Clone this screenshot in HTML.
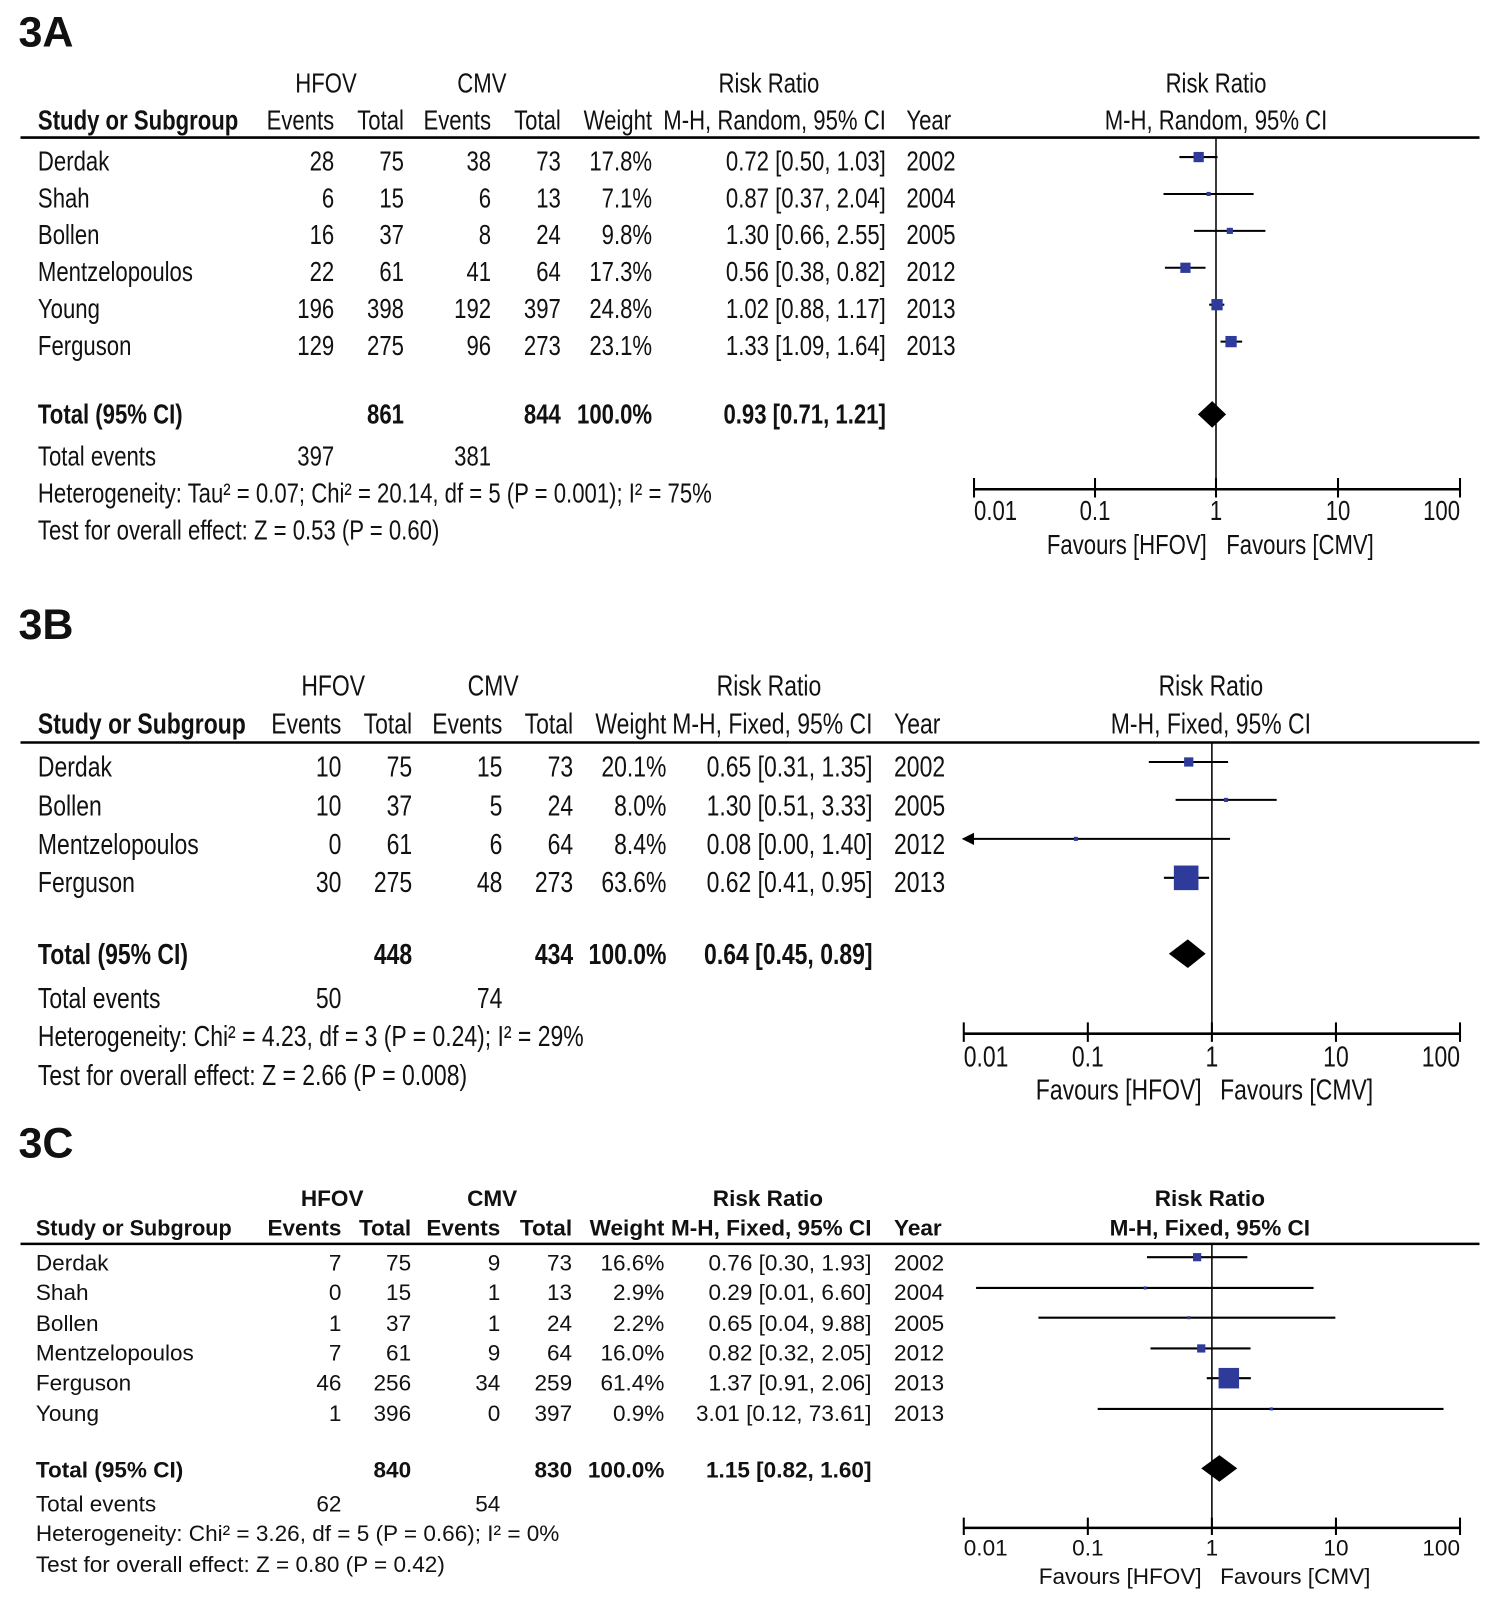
<!DOCTYPE html>
<html><head><meta charset="utf-8"><style>
html,body{margin:0;padding:0;background:#fff;}
svg{display:block;}
text{font-family:"Liberation Sans",Arial,sans-serif;fill:#111;}
.b{font-weight:bold;}
</style></head><body>
<svg width="1500" height="1607" viewBox="0 0 1463 1567" xmlns="http://www.w3.org/2000/svg">
<rect width="1463" height="1567" fill="#fff"/>
<!-- Panel labels -->
<text x="18" y="45" font-size="42" class="b" transform="scale(1,1)">3A</text>
<text x="18" y="623" font-size="42" class="b">3B</text>
<text x="18" y="1129" font-size="42" class="b">3C</text>

<!-- ===== 3A ===== -->
<g transform="scale(0.8,1)" font-size="27">
<g text-anchor="middle">
<text x="397.5" y="90">HFOV</text><text x="587.5" y="90">CMV</text>
<text x="937.5" y="90">Risk Ratio</text><text x="1482.5" y="90">Risk Ratio</text>
</g>
<text x="46.25" y="126" class="b">Study or Subgroup</text>
<g text-anchor="end">
<text x="407.5" y="126">Events</text><text x="492.5" y="126">Total</text>
<text x="598.75" y="126">Events</text><text x="683.75" y="126">Total</text>
<text x="795" y="126">Weight</text><text x="1080" y="126">M-H, Random, 95% CI</text>
</g>
<text x="1105" y="126">Year</text>
<text x="1482.5" y="126" text-anchor="middle">M-H, Random, 95% CI</text>

<g>
<text x="46.25" y="166">Derdak</text><text x="46.25" y="202">Shah</text><text x="46.25" y="238">Bollen</text>
<text x="46.25" y="274">Mentzelopoulos</text><text x="46.25" y="310">Young</text><text x="46.25" y="346">Ferguson</text>
</g>
<g text-anchor="end">
<text x="407.5" y="166">28</text><text x="492.5" y="166">75</text><text x="598.75" y="166">38</text><text x="683.75" y="166">73</text><text x="795" y="166">17.8%</text><text x="1080" y="166">0.72 [0.50, 1.03]</text>
<text x="407.5" y="202">6</text><text x="492.5" y="202">15</text><text x="598.75" y="202">6</text><text x="683.75" y="202">13</text><text x="795" y="202">7.1%</text><text x="1080" y="202">0.87 [0.37, 2.04]</text>
<text x="407.5" y="238">16</text><text x="492.5" y="238">37</text><text x="598.75" y="238">8</text><text x="683.75" y="238">24</text><text x="795" y="238">9.8%</text><text x="1080" y="238">1.30 [0.66, 2.55]</text>
<text x="407.5" y="274">22</text><text x="492.5" y="274">61</text><text x="598.75" y="274">41</text><text x="683.75" y="274">64</text><text x="795" y="274">17.3%</text><text x="1080" y="274">0.56 [0.38, 0.82]</text>
<text x="407.5" y="310">196</text><text x="492.5" y="310">398</text><text x="598.75" y="310">192</text><text x="683.75" y="310">397</text><text x="795" y="310">24.8%</text><text x="1080" y="310">1.02 [0.88, 1.17]</text>
<text x="407.5" y="346">129</text><text x="492.5" y="346">275</text><text x="598.75" y="346">96</text><text x="683.75" y="346">273</text><text x="795" y="346">23.1%</text><text x="1080" y="346">1.33 [1.09, 1.64]</text>
<text x="492.5" y="413" class="b">861</text><text x="683.75" y="413" class="b">844</text><text x="795" y="413" class="b">100.0%</text><text x="1080" y="413" class="b">0.93 [0.71, 1.21]</text>
<text x="407.5" y="454">397</text><text x="598.75" y="454">381</text>
</g>
<g>
<text x="1105" y="166">2002</text><text x="1105" y="202">2004</text><text x="1105" y="238">2005</text><text x="1105" y="274">2012</text><text x="1105" y="310">2013</text><text x="1105" y="346">2013</text>
<text x="46.25" y="413" class="b">Total (95% CI)</text>
<text x="46.25" y="454">Total events</text>
<text x="46.25" y="490">Heterogeneity: Tau² = 0.07; Chi² = 20.14, df = 5 (P = 0.001); I² = 75%</text>
<text x="46.25" y="526">Test for overall effect: Z = 0.53 (P = 0.60)</text>
</g>
<text x="1187.5" y="507">0.01</text>
<text x="1335" y="507" text-anchor="middle">0.1</text>
<text x="1482.5" y="507" text-anchor="middle">1</text>
<text x="1631.25" y="507" text-anchor="middle">10</text>
<text x="1780" y="507" text-anchor="end">100</text>
<text x="1471.25" y="540" text-anchor="end">Favours [HFOV]</text>
<text x="1495" y="540">Favours [CMV]</text>
</g>
<g stroke="#000" fill="none">
<line x1="20" y1="134" x2="1443" y2="134" stroke-width="2.5"/>
<line x1="1186" y1="134" x2="1186" y2="477" stroke-width="1.5"/>
<line x1="950" y1="477" x2="1424" y2="477" stroke-width="2.5"/>
<path d="M950 466V485M1068 466V485M1186 466V485M1305 466V485M1424 466V485" stroke-width="2"/>
<path d="M1150.3 153H1187.5M1134.8 189H1222.7M1164.6 225H1234.2M1136.2 261H1175.8M1179.4 297H1194.1M1190.4 333H1211.5" stroke-width="2"/>
</g>
<g fill="#2e3b9b">
<rect x="1164.1" y="148" width="10" height="10"/><rect x="1176.8" y="187" width="4" height="4"/>
<rect x="1196.5" y="222" width="6" height="6"/><rect x="1151.2" y="256" width="10" height="10"/>
<rect x="1181.5" y="291.5" width="11" height="11"/><rect x="1195.2" y="327.5" width="11" height="11"/>
</g>
<polygon points="1168.4,404 1182.3,391 1195.8,404 1182.3,417" fill="#000"/>

<!-- ===== 3B ===== -->
<g transform="scale(0.8,1)" font-size="28">
<g text-anchor="middle">
<text x="406.25" y="678">HFOV</text><text x="601.25" y="678">CMV</text>
<text x="937.5" y="678">Risk Ratio</text><text x="1476.25" y="678">Risk Ratio</text>
</g>
<text x="46.25" y="715" class="b">Study or Subgroup</text>
<g text-anchor="end">
<text x="416.25" y="715">Events</text><text x="502.5" y="715">Total</text>
<text x="612.5" y="715">Events</text><text x="698.75" y="715">Total</text>
<text x="812.5" y="715">Weight</text><text x="1063.75" y="715">M-H, Fixed, 95% CI</text>
</g>
<text x="1090" y="715">Year</text>
<text x="1476.25" y="715" text-anchor="middle">M-H, Fixed, 95% CI</text>
<g>
<text x="46.25" y="757">Derdak</text><text x="46.25" y="795">Bollen</text><text x="46.25" y="833">Mentzelopoulos</text><text x="46.25" y="870">Ferguson</text>
<text x="1090" y="757">2002</text><text x="1090" y="795">2005</text><text x="1090" y="833">2012</text><text x="1090" y="870">2013</text>
<text x="46.25" y="940" class="b">Total (95% CI)</text>
<text x="46.25" y="983">Total events</text>
<text x="46.25" y="1020">Heterogeneity: Chi² = 4.23, df = 3 (P = 0.24); I² = 29%</text>
<text x="46.25" y="1058">Test for overall effect: Z = 2.66 (P = 0.008)</text>
</g>
<g text-anchor="end">
<text x="416.25" y="757">10</text><text x="502.5" y="757">75</text><text x="612.5" y="757">15</text><text x="698.75" y="757">73</text><text x="812.5" y="757">20.1%</text><text x="1063.75" y="757">0.65 [0.31, 1.35]</text>
<text x="416.25" y="795">10</text><text x="502.5" y="795">37</text><text x="612.5" y="795">5</text><text x="698.75" y="795">24</text><text x="812.5" y="795">8.0%</text><text x="1063.75" y="795">1.30 [0.51, 3.33]</text>
<text x="416.25" y="833">0</text><text x="502.5" y="833">61</text><text x="612.5" y="833">6</text><text x="698.75" y="833">64</text><text x="812.5" y="833">8.4%</text><text x="1063.75" y="833">0.08 [0.00, 1.40]</text>
<text x="416.25" y="870">30</text><text x="502.5" y="870">275</text><text x="612.5" y="870">48</text><text x="698.75" y="870">273</text><text x="812.5" y="870">63.6%</text><text x="1063.75" y="870">0.62 [0.41, 0.95]</text>
<text x="502.5" y="940" class="b">448</text><text x="698.75" y="940" class="b">434</text><text x="812.5" y="940" class="b">100.0%</text><text x="1063.75" y="940" class="b">0.64 [0.45, 0.89]</text>
<text x="416.25" y="983">50</text><text x="612.5" y="983">74</text>
</g>
<text x="1175" y="1040">0.01</text>
<text x="1326.25" y="1040" text-anchor="middle">0.1</text>
<text x="1477.5" y="1040" text-anchor="middle">1</text>
<text x="1628.75" y="1040" text-anchor="middle">10</text>
<text x="1780" y="1040" text-anchor="end">100</text>
<text x="1465" y="1072" text-anchor="end">Favours [HFOV]</text>
<text x="1487.5" y="1072">Favours [CMV]</text>
</g>
<g stroke="#000" fill="none">
<line x1="20" y1="724" x2="1443" y2="724" stroke-width="2.5"/>
<line x1="1182" y1="724" x2="1182" y2="1008" stroke-width="1.5"/>
<line x1="940" y1="1008" x2="1424" y2="1008" stroke-width="2.5"/>
<path d="M940 997V1016M1061 997V1016M1182 997V1016M1303 997V1016M1424 997V1016" stroke-width="2"/>
<path d="M1120.5 743H1197.8M1146.6 780H1245.2M946 818H1199.7M1135.2 856H1179.3" stroke-width="2"/>
</g>
<polygon points="938,818 950,812 950,824" fill="#000"/>
<g fill="#2e3b9b">
<rect x="1154.9" y="738.5" width="9" height="9"/><rect x="1193.8" y="778" width="4" height="4"/>
<rect x="1047.3" y="816" width="4" height="4"/><rect x="1144.9" y="844" width="24" height="24"/>
</g>
<polygon points="1140,930 1158.5,916 1175.9,930 1158.5,944" fill="#000"/>

<!-- ===== 3C ===== -->
<g font-size="22">
<g text-anchor="middle" class="b">
<text x="324" y="1176">HFOV</text><text x="480" y="1176">CMV</text>
<text x="749" y="1176">Risk Ratio</text><text x="1180" y="1176">Risk Ratio</text>
</g>
<g class="b">
<text x="35" y="1205" textLength="191" lengthAdjust="spacingAndGlyphs">Study or Subgroup</text>
<g text-anchor="end">
<text x="333" y="1205">Events</text><text x="401" y="1205">Total</text>
<text x="488" y="1205">Events</text><text x="558" y="1205">Total</text>
<text x="648" y="1205">Weight</text><text x="850" y="1205">M-H, Fixed, 95% CI</text>
</g>
<text x="872" y="1205">Year</text>
<text x="1180" y="1205" text-anchor="middle">M-H, Fixed, 95% CI</text>
</g>
<g>
<text x="35" y="1239">Derdak</text><text x="35" y="1268">Shah</text><text x="35" y="1298">Bollen</text>
<text x="35" y="1327">Mentzelopoulos</text><text x="35" y="1356">Ferguson</text><text x="35" y="1386">Young</text>
<text x="872" y="1239">2002</text><text x="872" y="1268">2004</text><text x="872" y="1298">2005</text>
<text x="872" y="1327">2012</text><text x="872" y="1356">2013</text><text x="872" y="1386">2013</text>
<text x="35" y="1441" class="b">Total (95% CI)</text>
<text x="35" y="1474">Total events</text>
<text x="35" y="1503">Heterogeneity: Chi² = 3.26, df = 5 (P = 0.66); I² = 0%</text>
<text x="35" y="1533">Test for overall effect: Z = 0.80 (P = 0.42)</text>
</g>
<g text-anchor="end">
<text x="333" y="1239">7</text><text x="401" y="1239">75</text><text x="488" y="1239">9</text><text x="558" y="1239">73</text><text x="648" y="1239">16.6%</text><text x="850" y="1239">0.76 [0.30, 1.93]</text>
<text x="333" y="1268">0</text><text x="401" y="1268">15</text><text x="488" y="1268">1</text><text x="558" y="1268">13</text><text x="648" y="1268">2.9%</text><text x="850" y="1268">0.29 [0.01, 6.60]</text>
<text x="333" y="1298">1</text><text x="401" y="1298">37</text><text x="488" y="1298">1</text><text x="558" y="1298">24</text><text x="648" y="1298">2.2%</text><text x="850" y="1298">0.65 [0.04, 9.88]</text>
<text x="333" y="1327">7</text><text x="401" y="1327">61</text><text x="488" y="1327">9</text><text x="558" y="1327">64</text><text x="648" y="1327">16.0%</text><text x="850" y="1327">0.82 [0.32, 2.05]</text>
<text x="333" y="1356">46</text><text x="401" y="1356">256</text><text x="488" y="1356">34</text><text x="558" y="1356">259</text><text x="648" y="1356">61.4%</text><text x="850" y="1356">1.37 [0.91, 2.06]</text>
<text x="333" y="1386">1</text><text x="401" y="1386">396</text><text x="488" y="1386">0</text><text x="558" y="1386">397</text><text x="648" y="1386">0.9%</text><text x="850" y="1386">3.01 [0.12, 73.61]</text>
<text x="401" y="1441" class="b">840</text><text x="558" y="1441" class="b">830</text><text x="648" y="1441" class="b">100.0%</text><text x="850" y="1441" class="b">1.15 [0.82, 1.60]</text>
<text x="333" y="1474">62</text><text x="488" y="1474">54</text>
</g>
<text x="940" y="1517">0.01</text>
<text x="1061" y="1517" text-anchor="middle">0.1</text>
<text x="1182" y="1517" text-anchor="middle">1</text>
<text x="1303" y="1517" text-anchor="middle">10</text>
<text x="1424" y="1517" text-anchor="end">100</text>
<text x="1172" y="1545" text-anchor="end">Favours [HFOV]</text>
<text x="1190" y="1545">Favours [CMV]</text>
</g>
<g stroke="#000" fill="none">
<line x1="20" y1="1213" x2="1443" y2="1213" stroke-width="2.5"/>
<line x1="1182" y1="1213" x2="1182" y2="1490" stroke-width="1.5"/>
<line x1="940" y1="1490" x2="1424" y2="1490" stroke-width="2.5"/>
<path d="M940 1480V1497M1061 1480V1497M1182 1480V1497M1303 1480V1497M1424 1480V1497" stroke-width="2"/>
<path d="M1118.7 1226H1216.6M952 1256H1281.2M1012.8 1285H1302.4M1122.1 1315H1219.7M1177 1344H1220M1070.6 1374H1407.9" stroke-width="2"/>
</g>
<g fill="#2e3b9b">
<rect x="1163.6" y="1222" width="8" height="8"/><rect x="1115.4" y="1254.5" width="3" height="3"/>
<rect x="1157.9" y="1283.5" width="3" height="3"/><rect x="1167.6" y="1311" width="8" height="8"/>
<rect x="1188.5" y="1334" width="20" height="20"/><rect x="1238.5" y="1372.5" width="3" height="3"/>
</g>
<polygon points="1171.6,1432 1189.3,1419 1206.7,1432 1189.3,1445" fill="#000"/>
</svg>
</body></html>
